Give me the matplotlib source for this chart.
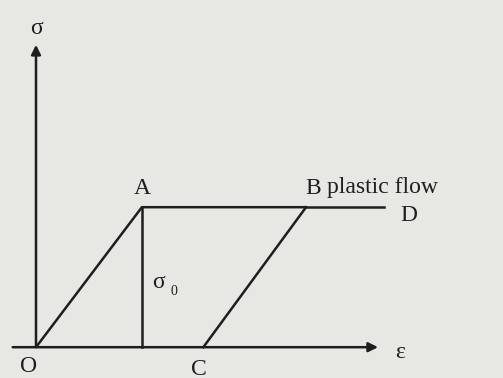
import matplotlib
matplotlib.use("Agg")
import matplotlib.pyplot as plt

# stress-strain path of an elastic / perfectly plastic material
# (strain in units of yield strain, stress in units of sigma_0)
path_eps = [0.0, 1.0, 2.55, 1.58]      # O -> A -> B -> C
path_sig = [0.0, 1.0, 1.0, 0.0]
flow_eps = [2.55, 3.29]                # B -> D, continued plastic flow
flow_sig = [1.0, 1.0]
point_names = ["O", "A", "B", "C", "D"]
point_eps = [-0.07, 1.0, 2.62, 1.54, 3.52]
point_sig = [-0.14, 1.13, 1.13, -0.16, 0.94]

ink = "#1e1e1e"
plt.rcParams["font.family"] = ["Liberation Serif", "DejaVu Serif"]

fig = plt.figure(figsize=(5.03, 3.78), dpi=100)
fig.patch.set_facecolor("#e7e7e4")
ax = fig.add_axes([0, 0, 1, 1])
ax.set_facecolor("#e7e7e4")
ax.set_xlim(-0.34, 4.41)
ax.set_ylim(-0.22, 2.48)
ax.axis("off")

# axes with arrow heads
arrow = dict(arrowstyle="-|>", color=ink, lw=1.8, mutation_scale=14,
             shrinkA=0, shrinkB=0)
ax.annotate("", xy=(0, 2.16), xytext=(0, 0), arrowprops=arrow)
ax.annotate("", xy=(3.23, 0), xytext=(-0.22, 0), arrowprops=arrow)

ax.plot(path_eps[:3], path_sig[:3], color=ink, lw=1.8, solid_capstyle="butt")
ax.plot(path_eps[2:], path_sig[2:], color=ink, lw=1.8)
ax.plot(flow_eps, flow_sig, color=ink, lw=1.8)
# yield stress marker under A
ax.plot([1.0, 1.0], [0.0, 1.0], color=ink, lw=1.8)

fs = 17
for name, e, s in zip(point_names, point_eps, point_sig):
    ax.text(e, s, name, fontsize=fs, color=ink, ha="center", va="center")

ax.text(0.0, 2.28, "σ", fontsize=fs, color=ink, ha="center", va="center")
ax.text(3.44, -0.04, "ε", fontsize=fs, color=ink, ha="center", va="center")
ax.text(1.1, 0.46, "σ", fontsize=fs, color=ink, ha="left", va="center")
ax.text(1.27, 0.40, "0", fontsize=10, color=ink, ha="left", va="center")
ax.text(2.75, 1.14, "plastic flow", fontsize=fs, color=ink,
        ha="left", va="center")

fig.savefig("out.png", dpi=100, facecolor=fig.get_facecolor())
